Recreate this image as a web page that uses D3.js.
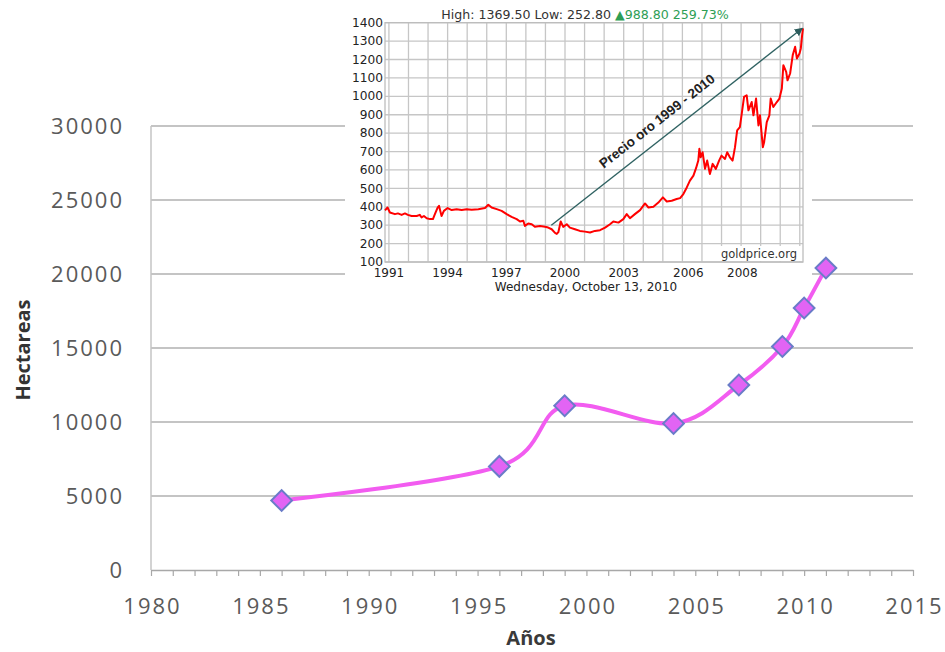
<!DOCTYPE html>
<html><head><meta charset="utf-8">
<script src="https://cdn.jsdelivr.net/npm/d3@7"></script>
<style>
html,body{margin:0;padding:0;background:#fff;}
svg{display:block;}
</style></head>
<body>
<svg id="chart" width="945" height="652"></svg>
<script>
// Cultivated area (hectares) by year
const years = [1986, 1996, 1999, 2004, 2007, 2009, 2010, 2011];
const hectareas = [4700, 7000, 11100, 9900, 12500, 15100, 17700, 20400];
const yTicks = [0, 5000, 10000, 15000, 20000, 25000, 30000];
const xTicks = [1980, 1985, 1990, 1995, 2000, 2005, 2010, 2015];

// Gold price (USD/oz), Oct 1990 - Oct 2010
const goldYears = [
  1990.80, 1990.93, 1991.05, 1991.31, 1991.46, 1991.65, 1991.82, 1991.97, 1992.16, 1992.42,
  1992.58, 1992.67, 1992.79, 1992.93, 1993.10, 1993.25, 1993.35, 1993.49, 1993.56, 1993.69,
  1993.81, 1994.00, 1994.21, 1994.46, 1994.72, 1994.97, 1995.23, 1995.57, 1995.91, 1996.08,
  1996.25, 1996.51, 1996.76, 1997.02, 1997.27, 1997.53, 1997.70, 1997.87, 1997.95, 1998.12,
  1998.30, 1998.46, 1998.72, 1998.98, 1999.14, 1999.32, 1999.49, 1999.58, 1999.66, 1999.78,
  1999.91, 2000.09, 2000.25, 2000.51, 2000.76, 2001.02, 2001.28, 2001.53, 2001.79, 2002.05,
  2002.30, 2002.47, 2002.73, 2002.98, 2003.14, 2003.29, 2003.52, 2003.76, 2003.99, 2004.15,
  2004.38, 2004.61, 2004.82, 2005.00, 2005.23, 2005.46, 2005.62, 2005.77, 2005.93, 2006.06,
  2006.19, 2006.29, 2006.37, 2006.41, 2006.46, 2006.53, 2006.62, 2006.70, 2006.80, 2006.90,
  2007.02, 2007.14, 2007.23, 2007.36, 2007.44, 2007.54, 2007.64, 2007.73, 2007.81, 2007.91,
  2007.98, 2008.08, 2008.20, 2008.28, 2008.43, 2008.51, 2008.63, 2008.74, 2008.81, 2008.94,
  2009.00, 2009.12, 2009.24, 2009.30, 2009.42, 2009.58, 2009.70, 2009.81, 2009.88, 2010.01,
  2010.07, 2010.19, 2010.31, 2010.42, 2010.50, 2010.62, 2010.68, 2010.74, 2010.78
];
const goldPrices = [
  380.7, 396, 369, 360, 364, 356, 364, 356, 350, 350,
  356, 342, 350, 338, 333, 333, 360, 396, 405, 350,
  378, 393, 382, 387, 382, 387, 384, 387, 393, 411,
  396, 387, 378, 360, 345, 333, 320, 324, 296, 309,
  305, 291, 296, 291, 287, 278, 258, 252.8, 262, 320,
  291, 305, 287, 278, 269, 265, 260, 269, 273, 287,
  305, 320, 314, 333, 360, 338, 360, 382, 418, 396,
  400, 423, 451, 429, 433, 442, 447, 469, 505, 542,
  569, 611, 651, 715, 669, 696, 606, 651, 578, 633,
  606, 651, 678, 660, 696, 669, 651, 724, 815, 833,
  906, 997, 1006, 924, 969, 897, 988, 842, 897, 724,
  751, 860, 897, 988, 942, 969, 988, 1042, 1169, 1133,
  1087, 1124, 1224, 1269, 1206, 1233, 1260, 1333, 1369.5
];
const goldYTicks = [100, 200, 300, 400, 500, 600, 700, 800, 900, 1000, 1100, 1200, 1300, 1400];
const goldXTicks = [1991, 1994, 1997, 2000, 2003, 2006, 2008];
const goldDateLabel = "Wednesday, October 13, 2010";
const trendLabel = "Precio oro 1999 - 2010";
const trendYears = [1999.3, 2010.75];

const svg = d3.select("#chart");

// ---------- main chart ----------
const x = d3.scaleLinear().domain([1980, 2015]).range([151, 913]);
const y = d3.scaleLinear().domain([0, 30000]).range([570, 126]);
const tickFont = "'Open Sans', 'Liberation Sans', sans-serif";

const main = svg.append("g");

main.append("g").selectAll("line")
  .data(yTicks.filter(d => d > 0))
  .join("line")
  .attr("x1", x(1980)).attr("x2", x(2015))
  .attr("y1", d => y(d)).attr("y2", d => y(d))
  .attr("stroke", "#c4c4c4").attr("stroke-width", 2);

main.append("line")
  .attr("x1", x(1980)).attr("x2", x(1980))
  .attr("y1", y(30000)).attr("y2", y(0))
  .attr("stroke", "#c4c4c4").attr("stroke-width", 1.5);

const xAxis = main.append("g")
  .attr("transform", `translate(0,${y(0)})`)
  .call(d3.axisBottom(x)
    .tickValues(d3.range(1980, 2016))
    .tickFormat(d => xTicks.includes(d) ? d : "")
    .tickSizeInner(6).tickSizeOuter(0));
xAxis.select(".domain").attr("stroke", "#a8a8a8").attr("stroke-width", 1.5);
xAxis.selectAll(".tick line").attr("stroke", "#a8a8a8").attr("stroke-width", 1.2);
xAxis.selectAll(".tick text")
  .attr("y", 28).attr("dx", "1px")
  .attr("fill", "#5a5a5a")
  .style("font-family", tickFont).style("font-size", "22px").style("letter-spacing", "2px");

const yAxis = main.append("g")
  .attr("transform", `translate(${x(1980)},0)`)
  .call(d3.axisLeft(y).tickValues(yTicks).tickSize(0).tickPadding(27).tickFormat(d3.format("d")));
yAxis.select(".domain").remove();
yAxis.selectAll(".tick text")
  .attr("fill", "#5a5a5a")
  .style("font-family", tickFont).style("font-size", "22px").style("letter-spacing", "2px");

main.append("text")
  .attr("transform", `translate(30,${(y(0) + y(30000)) / 2 + 2}) rotate(-90)`)
  .attr("text-anchor", "middle")
  .attr("fill", "#333")
  .style("font-family", tickFont).style("font-size", "20px").style("font-weight", "bold")
  .text("Hectareas");

main.append("text")
  .attr("x", 531).attr("y", 645)
  .attr("text-anchor", "middle")
  .attr("fill", "#3a3a3a")
  .style("font-family", tickFont).style("font-size", "20px").style("font-weight", "bold")
  .text("Años");

// ---------- gold price inset ----------
const inset = svg.append("g");
const insetFont = "'DejaVu Sans', Verdana, sans-serif";

inset.append("rect")
  .attr("x", 345).attr("y", 0).attr("width", 467).attr("height", 294)
  .attr("fill", "#fff");

const gx = d3.scaleLinear()
  .domain([goldYears[0], 2003, 2006, 2008, goldYears[goldYears.length - 1]])
  .range([385, 623.7, 688.3, 742.3, 803]);
const gy = d3.scaleLinear().domain([100, 1400]).range([262, 22.7]);

// grid: one vertical line per year step, horizontal per 100
const step = gx(1992) - gx(1991);
const vGrid = d3.range(0, Math.floor((gx.range()[4] - gx(1991)) / step) + 1).map(k => gx(1991) + k * step);
inset.append("g").selectAll("line").data(vGrid).join("line")
  .attr("x1", d => d).attr("x2", d => d)
  .attr("y1", gy(1400)).attr("y2", gy(100))
  .attr("stroke", "#c6c6c6").attr("stroke-width", 1.3);
inset.append("g").selectAll("line").data(goldYTicks).join("line")
  .attr("x1", gx.range()[0]).attr("x2", gx.range()[4])
  .attr("y1", d => gy(d)).attr("y2", d => gy(d))
  .attr("stroke", "#c6c6c6").attr("stroke-width", 1.3);
inset.append("rect")
  .attr("x", gx.range()[0]).attr("y", gy(1400))
  .attr("width", gx.range()[4] - gx.range()[0]).attr("height", gy(100) - gy(1400))
  .attr("fill", "none").attr("stroke", "#bdbdbd").attr("stroke-width", 1.3);

const labelSize = "12px";
// y labels
inset.append("g").selectAll("text").data(goldYTicks).join("text")
  .attr("x", 383).attr("y", d => gy(d)).attr("dy", "0.34em")
  .attr("text-anchor", "end").attr("fill", "#222")
  .style("font-family", insetFont).style("font-size", "12.2px")
  .text(d => d);
// x labels
inset.append("g").selectAll("text").data(goldXTicks).join("text")
  .attr("x", d => gx(d)).attr("y", 277)
  .attr("text-anchor", "middle").attr("fill", "#222")
  .style("font-family", insetFont).style("font-size", labelSize)
  .text(d => d);

inset.append("text")
  .attr("x", 586).attr("y", 290.5)
  .attr("text-anchor", "middle").attr("fill", "#222")
  .style("font-family", insetFont).style("font-size", labelSize)
  .text(goldDateLabel);

// header: high / low / change
const gFirst = goldPrices[0], gLast = goldPrices[goldPrices.length - 1];
const header = inset.append("text")
  .attr("x", 585).attr("y", 19)
  .attr("text-anchor", "middle")
  .style("font-family", insetFont).style("font-size", "12.6px");
header.append("tspan").attr("fill", "#333")
  .text(`High: ${d3.max(goldPrices).toFixed(2)} Low: ${d3.min(goldPrices).toFixed(2)} `);
header.append("tspan").attr("fill", "#2e9e55")
  .text(`\u25B2${(gLast - gFirst).toFixed(2)} ${((gLast - gFirst) / gFirst * 100).toFixed(2)}%`);

// price line
inset.append("path")
  .datum(goldYears.map((d, i) => [d, goldPrices[i]]))
  .attr("fill", "none").attr("stroke", "#ff0000").attr("stroke-width", 2)
  .attr("stroke-linejoin", "round")
  .attr("d", d3.line().x(d => gx(d[0])).y(d => gy(d[1])));

// source tag
inset.append("rect")
  .attr("x", 716).attr("y", 246).attr("width", 86).attr("height", 15)
  .attr("fill", "#fff");
inset.append("text")
  .attr("x", 759).attr("y", 258)
  .attr("text-anchor", "middle").attr("fill", "#333")
  .style("font-family", insetFont).style("font-size", "11.5px")
  .text("goldprice.org");

// trend arrow
svg.append("defs").append("marker")
  .attr("id", "arrowHead")
  .attr("viewBox", "0 0 10 10").attr("refX", 9).attr("refY", 5)
  .attr("markerWidth", 6).attr("markerHeight", 6)
  .attr("orient", "auto")
  .append("path").attr("d", "M0,0L10,5L0,10Z").attr("fill", "#2b5c5c");

const a0 = [gx(trendYears[0]), gy(300)];
const a1 = [gx(trendYears[1]), gy(1370)];
inset.append("line")
  .attr("x1", a0[0]).attr("y1", a0[1]).attr("x2", a1[0]).attr("y2", a1[1])
  .attr("stroke", "#2f6262").attr("stroke-width", 1.4)
  .attr("marker-end", "url(#arrowHead)");
const ang = Math.atan2(a1[1] - a0[1], a1[0] - a0[0]) * 180 / Math.PI;
inset.append("text")
  .attr("transform", `translate(${(a0[0] + a1[0]) / 2 - 17},${(a0[1] + a1[1]) / 2 - 2}) rotate(${ang})`)
  .attr("text-anchor", "middle").attr("fill", "#222")
  .style("font-family", "'Liberation Sans', Arial, sans-serif")
  .style("font-size", "13.5px").style("font-weight", "bold")
  .text(trendLabel);

// ---------- main series (drawn on top) ----------
const pts = years.map((d, i) => [d, hectareas[i]]);
svg.append("path")
  .datum(pts)
  .attr("fill", "none").attr("stroke", "#f25cf0").attr("stroke-width", 4)
  .attr("d", d3.line().curve(d3.curveCardinal.tension(0)).x(d => x(d[0])).y(d => y(d[1])));

svg.append("g").selectAll("path").data(pts).join("path")
  .attr("transform", d => `translate(${x(d[0])},${y(d[1])}) rotate(45)`)
  .attr("d", d3.symbol(d3.symbolSquare, 215))
  .attr("fill", "#e264f4").attr("stroke", "#6a7cc8").attr("stroke-width", 2);
</script>
</body></html>
